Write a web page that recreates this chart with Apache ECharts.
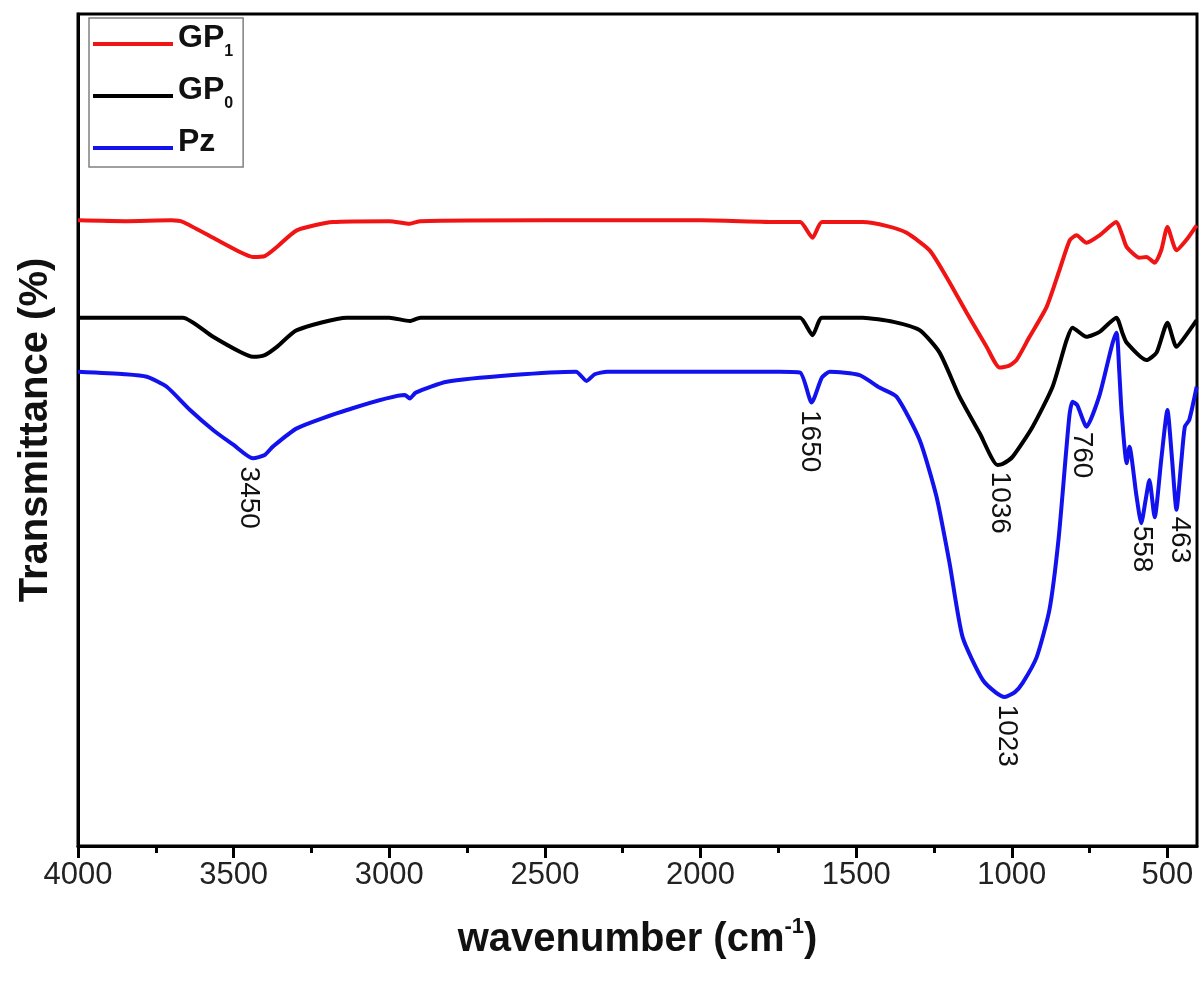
<!DOCTYPE html>
<html>
<head>
<meta charset="utf-8">
<script src="https://cdn.jsdelivr.net/npm/echarts@6/dist/echarts.min.js"></script>
<style>
html,body{margin:0;padding:0;background:#fff;}
#chart{width:1199px;height:982px;}
</style>
</head>
<body>
<div id="chart"></div>
<script>
// ---- Data (wavenumber in cm^-1, transmittance in arbitrary % units) ----
const gp1Wn = [4000, 3850, 3700, 3663, 3566, 3480, 3438, 3400, 3361, 3297, 3181, 3000, 2934, 2900, 2500, 2000, 1746, 1680, 1640, 1610, 1479, 1400, 1338, 1264, 1210, 1145, 1081, 1039, 1010, 985, 943, 888, 847, 814, 792, 760, 718, 664, 645, 631, 590, 567, 541, 520, 500, 471, 440, 406];
const gp1T  = [75.2, 75.1, 75.2, 75.0, 73.1, 71.4, 70.8, 70.9, 72.0, 74.0, 75.0, 75.1, 74.8, 75.1, 75.2, 75.2, 75.0, 75.0, 73.1, 75.0, 75.0, 74.5, 73.7, 71.6, 68.4, 64.1, 60.0, 57.5, 57.7, 58.4, 61.2, 64.8, 69.2, 72.8, 73.4, 72.5, 73.4, 75.0, 73.4, 72.0, 70.7, 70.8, 70.1, 71.6, 74.4, 71.6, 72.8, 74.6];

const gp0Wn = [4000, 3850, 3700, 3663, 3566, 3480, 3438, 3400, 3361, 3297, 3136, 3000, 2934, 2900, 2500, 2000, 1746, 1680, 1640, 1610, 1479, 1380, 1296, 1232, 1168, 1103, 1046, 1030, 997, 933, 869, 824, 805, 760, 718, 664, 645, 631, 567, 535, 500, 471, 440, 406];
const gp0T  = [63.5, 63.5, 63.5, 63.5, 61.2, 59.4, 58.8, 59.0, 60.0, 62.0, 63.5, 63.5, 63.1, 63.5, 63.5, 63.5, 63.5, 63.5, 61.4, 63.5, 63.5, 63.0, 62.0, 59.3, 54.0, 49.6, 45.8, 45.9, 46.8, 50.4, 55.2, 60.8, 62.3, 61.2, 61.8, 63.5, 61.7, 60.5, 58.4, 59.3, 62.9, 60.0, 61.4, 63.2];

const pzWn = [4000, 3850, 3779, 3715, 3640, 3566, 3500, 3438, 3400, 3374, 3297, 3136, 2950, 2934, 2915, 2815, 2603, 2400, 2366, 2340, 2300, 1746, 1680, 1643, 1610, 1585, 1489, 1425, 1370, 1296, 1242, 1200, 1158, 1094, 1050, 1023, 990, 965, 920, 879, 850, 825, 814, 805, 790, 760, 718, 664, 655, 647, 631, 622, 600, 584, 570, 558, 541, 520, 500, 485, 471, 455, 444, 430, 406];
const pzT  = [57.0, 56.7, 56.4, 55.2, 52.4, 50.0, 48.2, 46.6, 47.0, 48.0, 50.2, 52.4, 54.2, 53.8, 54.5, 55.8, 56.6, 57.0, 55.9, 56.7, 57.0, 57.0, 56.9, 53.3, 56.3, 57.0, 56.6, 55.1, 54.0, 48.8, 42.0, 34.0, 25.1, 20.0, 18.4, 17.9, 18.5, 19.6, 22.7, 28.4, 36.8, 47.6, 52.0, 53.4, 53.0, 50.4, 54.2, 61.7, 57.2, 52.0, 46.0, 48.0, 42.2, 38.8, 41.6, 44.0, 39.5, 46.4, 52.4, 46.4, 40.4, 46.4, 50.4, 51.2, 55.2];

// peak annotations: label text, wavenumber, transmittance where text starts
const annotText = ['3450', '1650', '1036', '1023', '760', '558', '463'];
const annotWn   = [3450, 1649, 1039, 1017, 776, 583, 461];
const annotT    = [45.6, 52.4, 45.0, 17.0, 49.8, 38.5, 39.6];

const majorTicks = [4000, 3500, 3000, 2500, 2000, 1500, 1000, 500];
const minorTicks = [3750, 3250, 2750, 2250, 1750, 1250, 750];

const seriesNames = ['GP1', 'GP0', 'Pz'];
const seriesColors = ['#f01414', '#000000', '#1212ee'];

// ---- Chart ----
const FONT = '"Liberation Sans", Arial, sans-serif';
const chart = echarts.init(document.getElementById('chart'), null, {renderer: 'canvas'});
const pair = (xs, ys) => xs.map((x, i) => [x, ys[i]]);

const lineSeries = [
  [gp1Wn, gp1T], [gp0Wn, gp0T], [pzWn, pzT]
].map((d, i) => ({
  name: seriesNames[i],
  type: 'line',
  xAxisIndex: 0,
  data: pair(d[0], d[1]),
  showSymbol: false,
  smooth: 0.2,
  lineStyle: {color: seriesColors[i], width: 4},
  itemStyle: {color: seriesColors[i]},
  silent: true
}));

const annotSeries = {
  type: 'scatter',
  xAxisIndex: 0,
  data: annotText.map((t, i) => ({name: t, value: [annotWn[i], annotT[i]]})),
  symbolSize: 1,
  itemStyle: {color: 'rgba(0,0,0,0)'},
  silent: true,
  z: 5,
  label: {
    show: true,
    formatter: '{b}',
    position: 'inside',
    rotate: -90,
    align: 'left',
    verticalAlign: 'middle',
    fontSize: 28,
    color: '#111111',
    opacity: 1,
    textBorderWidth: 0,
    fontFamily: FONT
  }
};

const subLabel = {GP1: ['GP', '1'], GP0: ['GP', '0'], Pz: ['Pz', '']};

chart.setOption({
  animation: false,
  backgroundColor: '#ffffff',
  grid: {
    left: 78, right: 2, top: 14, bottom: 136,
    show: true, borderColor: '#000', borderWidth: 3, backgroundColor: 'transparent'
  },
  legend: {
    data: seriesNames,
    orient: 'vertical',
    left: 89, top: 18,
    icon: 'rect',
    itemWidth: 80, itemHeight: 4,
    itemGap: 14,
    padding: [4, 10, 3, 4],
    borderColor: '#808080', borderWidth: 1.5,
    formatter: n => subLabel[n][1] ? '{a|' + subLabel[n][0] + '}{b|' + subLabel[n][1] + '}' : '{a|' + subLabel[n][0] + '}',
    textStyle: {
      rich: {
        a: {fontSize: 32, fontWeight: 'bold', fontFamily: FONT, color: '#111', lineHeight: 32, padding: [0, 0, 6, 0], verticalAlign: 'bottom'},
        b: {fontSize: 16, fontWeight: 'bold', fontFamily: FONT, color: '#111', lineHeight: 16, verticalAlign: 'bottom'}
      }
    }
  },
  xAxis: [{
    type: 'value',
    inverse: true,
    min: 405, max: 4000,
    position: 'bottom',
    name: '{t|wavenumber (cm}{s|-1}{t|)}',
    nameLocation: 'middle',
    nameGap: 70,
    nameTextStyle: {
      rich: {
        t: {fontSize: 40, fontWeight: 'bold', fontFamily: FONT, color: '#111', lineHeight: 44, verticalAlign: 'bottom'},
        s: {fontSize: 22, fontWeight: 'bold', fontFamily: FONT, color: '#111', lineHeight: 22, padding: [0, 0, 22, 0], verticalAlign: 'bottom'}
      }
    },
    axisLine: {show: true, onZero: false, lineStyle: {color: '#000', width: 3}},
    axisTick: {show: true, inside: false, length: 12, lineStyle: {color: '#000', width: 3}, customValues: majorTicks},
    axisLabel: {show: true, customValues: majorTicks, margin: 14, fontSize: 31, color: '#222', fontFamily: FONT, formatter: v => String(v)},
    splitLine: {show: false}
  }, {
    type: 'value',
    inverse: true,
    min: 405, max: 4000,
    position: 'bottom',
    axisLine: {show: false},
    axisTick: {show: true, inside: false, length: 7, lineStyle: {color: '#000', width: 3}, customValues: minorTicks},
    axisLabel: {show: false, customValues: minorTicks},
    splitLine: {show: false}
  }],
  yAxis: {
    type: 'value',
    min: 0, max: 100,
    name: 'Transmittance (%)',
    nameLocation: 'middle',
    nameGap: 22,
    nameTextStyle: {fontSize: 40, fontWeight: 'bold', fontFamily: FONT, color: '#111'},
    axisLine: {show: true, lineStyle: {color: '#000', width: 3}},
    axisTick: {show: false},
    axisLabel: {show: false},
    splitLine: {show: false}
  },
  series: [...lineSeries, annotSeries]
});
</script>
</body>
</html>
